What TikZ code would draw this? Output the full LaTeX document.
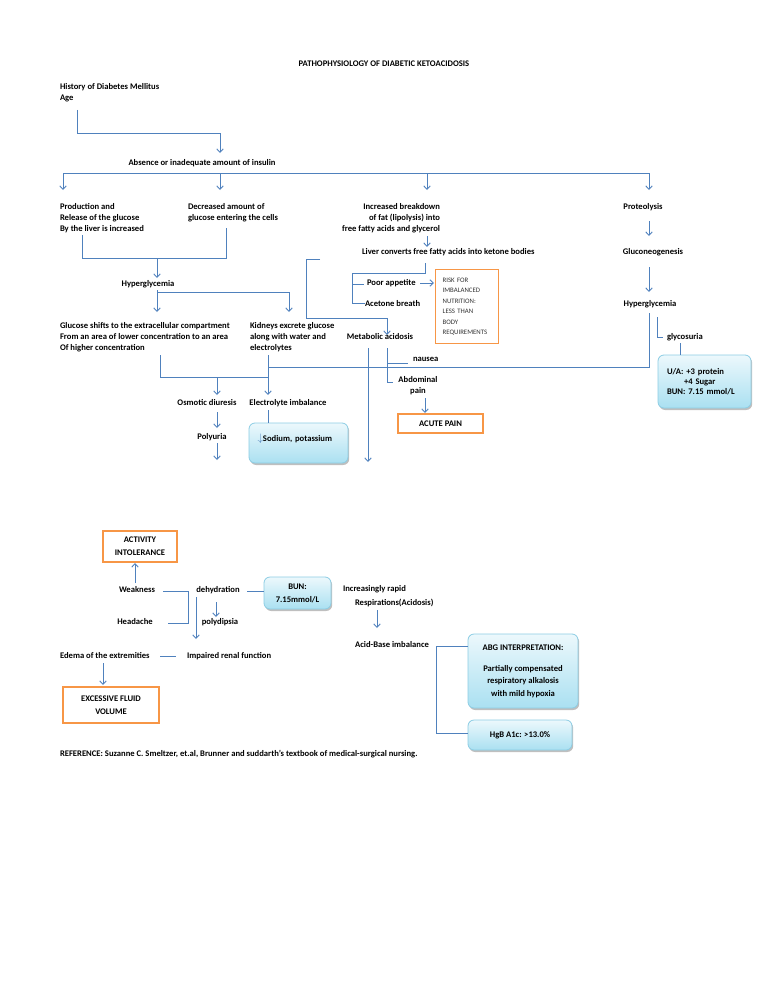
\documentclass[tikz,border=0pt]{standalone}
\usepackage{fontspec}
\setmainfont{Carlito}
\usetikzlibrary{arrows.meta,shadows}
\definecolor{lb}{RGB}{79,129,189}
\definecolor{org}{RGB}{247,150,70}
\definecolor{cyb}{RGB}{140,205,228}
\definecolor{cyt}{RGB}{236,248,252}
\definecolor{cybot}{RGB}{170,224,241}
\newcommand\fs{\fontsize{8.6}{11}\selectfont\bfseries}
\begin{document}
\begin{tikzpicture}[x=1pt,y=-1pt,
 t/.style={font=\fs, inner sep=0pt, outer sep=0pt},
 ml/.style={t, align=left, anchor=north west},
 conn/.style={draw=lb, line width=0.9pt},
 arr/.style={conn, -{Straight Barb[length=3.5pt,width=6.5pt]}},
 obox/.style={draw=org, line width=1.4pt, font=\fontsize{8.6}{13}\selectfont\bfseries, align=center, inner sep=0pt},
 cbox/.style={draw=cyb, line width=0.8pt, rounded corners=6pt, top color=cyt, bottom color=cybot,
   drop shadow={shadow xshift=1.2pt, shadow yshift=-2pt, fill=black, opacity=0.25},
   font=\fontsize{8.6}{12.5}\selectfont\bfseries, align=center, inner sep=0pt},
]
\fill[white] (0,0) rectangle (768,1006);
\useasboundingbox (0,0) rectangle (768,1006);

% ---- text nodes ----
\node[t] (title) at (384,64) {PATHOPHYSIOLOGY OF DIABETIC KETOACIDOSIS};
\node[ml] (hist) at (60,83) {History of Diabetes Mellitus\\Age};
\node[t] (absence) at (202,163) {Absence or inadequate amount of insulin};
\node[ml] (prod) at (60,203) {Production and\\Release of the glucose\\By the liver is increased};
\node[ml] (decr) at (188,203) {Decreased amount of\\glucose entering the cells};
\node[t, align=right, anchor=north east] (lipo) at (440,203) {Increased breakdown\\of fat (lipolysis) into\\free fatty acids and glycerol};
\node[t] (prot) at (643,207) {Proteolysis};
\node[t, anchor=west] (liver) at (362,252) {Liver converts free fatty acids into ketone bodies};
\node[t] (gluco) at (653,252) {Gluconeogenesis};
\node[t] (hypA) at (148,284) {Hyperglycemia};
\node[t] (hypB) at (650,304) {Hyperglycemia};
\node[t, anchor=west] (poor) at (367,283) {Poor appetite};
\node[t, anchor=west] (acet) at (365,304) {Acetone breath};
\node[ml] (shift) at (60,322) {Glucose shifts to the extracellular compartment\\From an area of lower concentration to an area\\Of higher concentration};
\node[ml] (kid) at (250,322) {Kidneys excrete glucose\\along with water and\\electrolytes};
\node[t] (metab) at (380,337) {Metabolic acidosis};
\node[t, anchor=west] (glyco) at (667,337) {glycosuria};
\node[t, anchor=west] (naus) at (413,359) {nausea};
\node[t, align=center, anchor=north] (abdo) at (418,376) {Abdominal\\pain};
\node[t] (osm) at (207,403) {Osmotic diuresis};
\node[t] (elec) at (288,403) {Electrolyte imbalance};
\node[t] (poly) at (212,437) {Polyuria};
\node[t] (weak) at (137,590) {Weakness};
\node[t] (dehyd) at (218,590) {dehydration};
\node[ml] (incr) at (343,585) {Increasingly rapid\\[3pt]\hspace*{12pt}Respirations(Acidosis)};
\node[t] (head) at (135,622) {Headache};
\node[t] (polyd) at (220,622) {polydipsia};
\node[t] (acid) at (392,645) {Acid-Base imbalance};
\node[t, anchor=west] (edema) at (60,656) {Edema of the extremities};
\node[t, anchor=west] (impair) at (187,656) {Impaired renal function};
\node[t, anchor=west] (ref) at (60,754) {REFERENCE: Suzanne C. Smeltzer, et.al, Brunner and suddarth's textbook of medical-surgical nursing.};

% ---- boxes ----
\node[draw=org, line width=1.4pt, anchor=north west, minimum width=63pt, minimum height=74pt,
  text width=49pt, inner xsep=7pt, inner ysep=4pt, align=left,
  font=\fontsize{6.8}{10.4}\selectfont, text=black!80] (risk) at (435,269)
  {RISK FOR\\IMBALANCED\\NUTRITION:\\LESS THAN\\BODY\\REQUIREMENTS};
\node[obox, minimum width=85pt, minimum height=19pt] (acute) at (440.5,423.5) {ACUTE PAIN};
\node[obox, minimum width=74pt, minimum height=31pt] (actint) at (140,546.5) {ACTIVITY\\INTOLERANCE};
\node[obox, minimum width=96pt, minimum height=36pt] (excess) at (111,705) {EXCESSIVE FLUID\\VOLUME};
\node[cbox, minimum width=93pt, minimum height=53pt, text width=75pt, align=left,
  font=\fontsize{8.6}{10}\selectfont\bfseries] (ua) at (704.5,381.5)
  {U/A:\ +3 protein\\\hspace*{17pt}+4 Sugar\\BUN: 7.15 mmol/L};
\node[cbox, minimum width=99pt, minimum height=40pt, text width=82pt, align=left,
  text height=6pt, text depth=10pt] (sod) at (298.5,443)
  {\textcolor{lb}{\fontsize{11}{11}\selectfont$\downarrow$}Sodium, potassium};
\node[cbox, minimum width=67pt, minimum height=32pt, font=\fontsize{8.6}{13}\selectfont\bfseries] (bun) at (297.5,593) {BUN:\\7.15mmol/L};
\node[cbox, minimum width=110pt, minimum height=74pt] (abg) at (523,671)
  {ABG INTERPRETATION:\\[8.5pt]Partially compensated\\respiratory alkalosis\\with mild hypoxia};
\node[cbox, minimum width=104pt, minimum height=30pt] (hgb) at (520,735) {HgB A1c: >13.0\%};

% ---- connectors ----
\draw[arr] (77,110) |- (220,133) -- (220,153);
\draw[conn] (63,173) -- (649,173);
\foreach \xx in {63,220,427,649} \draw[arr] (\xx,173) -- (\xx,190);
\draw[conn] (82,235) |- (226,258) -- (226,228);
\draw[arr] (157,258) -- (157,278);
\draw[arr] (157,290) -- (157,312);
\draw[arr] (157,292) -| (289,312);
\draw[conn] (160,355) |- (268,377);
\draw[arr] (217,377) -- (217,395);
\draw[arr] (268,355) -- (268,395);
\draw[conn] (268,367) -- (649,367) -- (649,313);
\draw[arr] (217,412) -- (217,428);
\draw[arr] (217,443) -- (217,460);
\draw[conn] (268,410) -- (268,423);
\draw[arr] (649,221) -- (649,236);
\draw[arr] (649,267) -- (649,292);
\draw[conn] (657,317) |- (663,337);
\draw[conn] (680,343) -- (680,355);
\draw[arr] (427,236) -- (427,247);
\draw[conn] (425,263) |- (352,273) |- (365,303);
\draw[conn] (352,284) -- (364,284);
\draw[arr] (420,283) -- (434,283);
\draw[arr] (320,259) -| (306,318) -| (387,335);
\draw[conn] (387,348) |- (393,382);
\draw[conn] (387,363) -- (408,363);
\draw[arr] (425,398) -- (425,413);
\draw[arr] (368,348) -- (368,462);
\draw[arr] (135,583) -- (135,563);
\draw[conn] (163,591) -| (188,623) -- (168,623);
\draw[arr] (216,602) -- (216,617);
\draw[arr] (196,597) -- (196,639);
\draw[conn] (247,591) -- (264,591);
\draw[arr] (377,610) -- (377,628);
\draw[conn] (468,646) -| (436,733) -- (468,733);
\draw[conn] (160,656) -- (176,656);
\draw[arr] (103,663) -- (103,685);
\end{tikzpicture}
\end{document}
